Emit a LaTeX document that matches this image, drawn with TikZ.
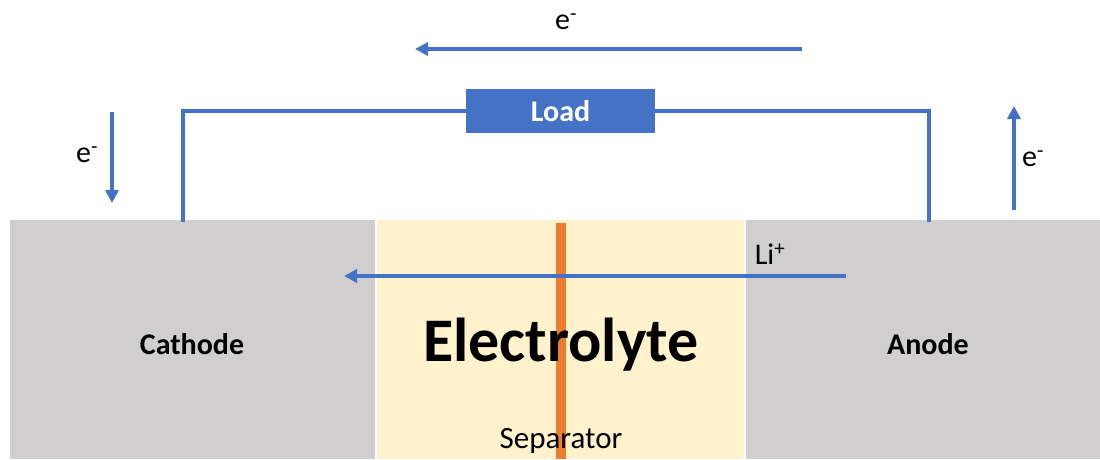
\documentclass[tikz,border=0pt]{standalone}
\usepackage{fontspec}
\setmainfont{Carlito}
\usetikzlibrary{arrows.meta}
\definecolor{electrode}{HTML}{D0CECE}
\definecolor{electrolyte}{HTML}{FFF2CC}
\definecolor{wire}{HTML}{4472C4}
\definecolor{separator}{HTML}{ED7D31}
\tikzset{
  lbl/.style={font=\fontsize{30}{36}\selectfont, inner sep=0pt},
  boldlbl/.style={font=\fontsize{30}{36}\selectfont\bfseries, inner sep=0pt},
  region/.style={draw=none, inner sep=0pt, anchor=north west},
  wireline/.style={draw=wire, line width=4pt},
  flow/.style={draw=wire, line width=4pt, -{Triangle[width=13pt,length=13pt]}}
}
\begin{document}
\begin{tikzpicture}[x=1pt,y=-1pt]
\useasboundingbox (0,0) rectangle (1100,459);
\fill[white] (0,0) rectangle (1100,459);

% cell regions
\node[region, fill=electrode, minimum width=365pt, minimum height=239pt] (cathodebox) at (10,220) {};
\node[region, fill=electrolyte, minimum width=367pt, minimum height=239pt] (electrolytebox) at (377,220) {};
\node[region, fill=electrode, minimum width=354pt, minimum height=239pt] (anodebox) at (746,220) {};

% separator
\coordinate (septop) at (561,223);
\coordinate (sepbot) at (561,459);
\draw[draw=separator, line width=10pt] (septop) -- (sepbot);

% labels in the cell
\node[boldlbl] (cathode) at (192,344) {Cathode};
\node[boldlbl] (anode) at (928,344) {Anode};
\node[font=\fontsize{62}{72}\selectfont\bfseries, inner sep=0pt] (electrolyte) at (561,345) {Electrolyte};
\node[lbl, font=\fontsize{31}{37}\selectfont] (sep) at (561,441) {Separator};

% external circuit with load
\node[fill=wire, minimum width=189pt, minimum height=44pt, inner sep=0pt,
      text=white, font=\fontsize{30}{36}\selectfont\bfseries] (load) at (560.5,111) {Load};
\coordinate (cwire) at (183,222);
\coordinate (awire) at (929,222);
\draw[wireline] (cwire) |- (load.west);
\draw[wireline] (load.east) -| (awire);

% electron flow arrows
\coordinate (topstart) at (802,49);
\coordinate (topend) at (415,49);
\draw[flow] (topstart) -- (topend);
\node[lbl] (etop) at (566,22) {e\textsuperscript{-}};

\coordinate (leftstart) at (112,112);
\coordinate (leftend) at (112,203);
\draw[flow] (leftstart) -- (leftend);
\node[lbl] (eleft) at (87,155) {e\textsuperscript{-}};

\coordinate (rightstart) at (1014,210);
\coordinate (rightend) at (1014,106);
\draw[flow] (rightstart) -- (rightend);
\node[lbl] (eright) at (1033,159) {e\textsuperscript{-}};

% lithium ion flow
\coordinate (listart) at (846,276);
\coordinate (liend) at (344,276);
\draw[flow] (listart) -- (liend);
\node[lbl] (li) at (770,254) {Li\textsuperscript{+}};
\end{tikzpicture}
\end{document}
